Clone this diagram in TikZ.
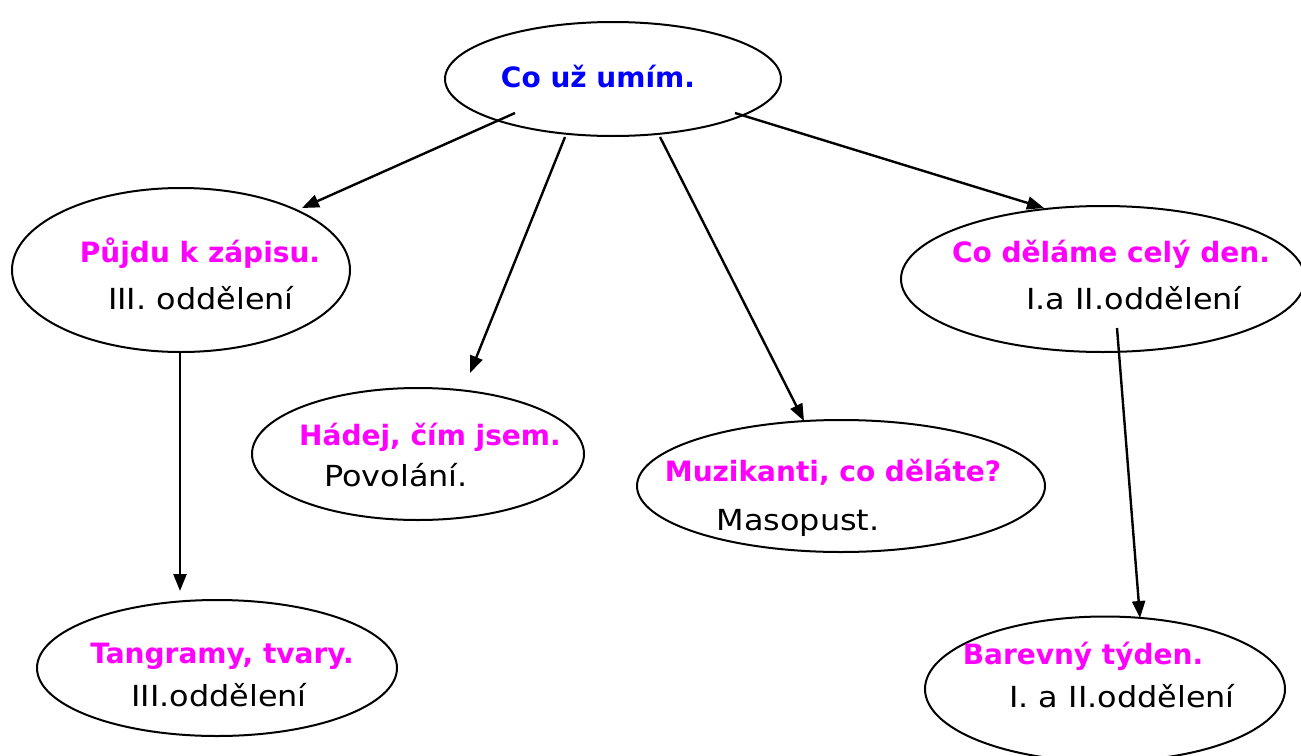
\documentclass[tikz,border=0pt]{standalone}
\usepackage{fontspec}
\setmainfont{DejaVu Sans}
\newfontfamily\widefont[FakeStretch=1.1]{DejaVu Sans}
\usetikzlibrary{shapes.geometric,arrows.meta}
\definecolor{titleblue}{RGB}{0,0,255}
\definecolor{mag}{RGB}{255,0,255}
\begin{document}
\begin{tikzpicture}[x=1pt,y=-1pt,
  oval/.style={draw=black,line width=2pt,ellipse,inner sep=0pt},
  head/.style={font=\fontsize{28}{30}\selectfont\bfseries,text=mag,inner sep=0pt},
  sub/.style={font=\widefont\fontsize{29}{30}\selectfont,text=black,inner sep=0pt},
  conn/.style={line width=2.4pt,-{Triangle[length=17pt,width=13pt]}}]
\useasboundingbox (0,0) rectangle (1301,755);
% ellipses
\node[oval,minimum width=336pt,minimum height=114pt] (top) at (613,79) {};
\node[oval,minimum width=338pt,minimum height=164pt] (zapis) at (181,270) {};
\node[oval,minimum width=332pt,minimum height=132pt] (hadej) at (418,454) {};
\node[oval,minimum width=408pt,minimum height=132pt] (muzik) at (841,486) {};
\node[oval,minimum width=404pt,minimum height=146pt] (den) at (1103,279) {};
\node[oval,minimum width=360pt,minimum height=136pt] (tangram) at (217,668) {};
\node[oval,minimum width=360pt,minimum height=145pt] (barva) at (1105,689) {};
% texts
\node[head,text=titleblue] (t0) at (598,76) {Co už umím.};
\node[head] (t1) at (200,253) {Půjdu k zápisu.};
\node[sub] (s1) at (201,298) {III. oddělení};
\node[head] (t2) at (430,437) {Hádej, čím jsem.};
\node[sub] (s2) at (396,475) {Povolání.};
\node[head] (t3) at (833,472) {Muzikanti, co děláte?};
\node[sub] (s3) at (798,523) {Masopust.};
\node[head] (t4) at (1111,254) {Co děláme celý den.};
\node[sub] (s4) at (1134,298) {I.a II.oddělení};
\node[head] (t5) at (222,656) {Tangramy, tvary.};
\node[sub] (s5) at (219,695) {III.oddělení};
\node[head] (t6) at (1083,656) {Barevný týden.};
\node[sub] (s6) at (1122,696) {I. a II.oddělení};
% connector end points
\coordinate (a1s) at (515,113); \coordinate (a1e) at (302,208);
\coordinate (a2s) at (565,137); \coordinate (a2e) at (470,373);
\coordinate (a3s) at (660,137); \coordinate (a3e) at (804,421);
\coordinate (a4s) at (735,113); \coordinate (a4e) at (1044,208);
\coordinate (a5s) at (180,352); \coordinate (a5e) at (180,591);
\coordinate (a6s) at (1117,328); \coordinate (a6e) at (1140,618);
\draw[conn] (a1s) -- (a1e);
\draw[conn] (a2s) -- (a2e);
\draw[conn] (a3s) -- (a3e);
\draw[conn] (a4s) -- (a4e);
\draw[conn] (a5s) -- (a5e);
\draw[conn] (a6s) -- (a6e);
\end{tikzpicture}
\end{document}
